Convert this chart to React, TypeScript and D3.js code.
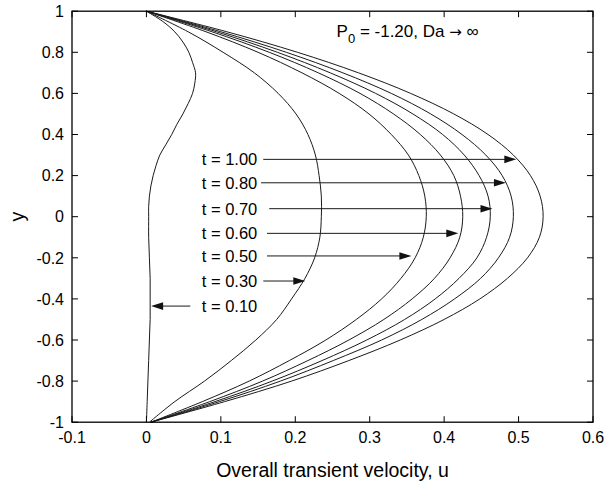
import React from "react";
import * as d3 from "d3";

// profiles sampled on a common y grid (top wall to bottom wall)
const yGrid = [1, 0.9, 0.8, 0.7, 0.6, 0.5, 0.4, 0.3, 0.2, 0.1, 0, -0.1, -0.2, -0.3, -0.4, -0.5, -0.6, -0.7, -0.8, -0.9, -1];
const u030 = [0, 0.056, 0.103, 0.145, 0.177, 0.201, 0.217, 0.227, 0.232, 0.235, 0.235, 0.233, 0.226, 0.213, 0.195, 0.175, 0.147, 0.114, 0.078, 0.038, 0.004];
const u050 = [0, 0.08, 0.15, 0.209, 0.259, 0.299, 0.329, 0.352, 0.366, 0.374, 0.376, 0.372, 0.361, 0.342, 0.316, 0.282, 0.241, 0.192, 0.138, 0.075, 0.006];
const u060 = [0, 0.088, 0.165, 0.231, 0.287, 0.332, 0.368, 0.395, 0.413, 0.422, 0.425, 0.421, 0.408, 0.387, 0.357, 0.319, 0.272, 0.217, 0.156, 0.085, 0.006];
const u070 = [0, 0.094, 0.176, 0.247, 0.308, 0.358, 0.398, 0.427, 0.447, 0.459, 0.462, 0.457, 0.444, 0.42, 0.388, 0.347, 0.296, 0.236, 0.169, 0.092, 0.006];
const u080 = [0, 0.1, 0.188, 0.264, 0.329, 0.382, 0.424, 0.456, 0.478, 0.49, 0.493, 0.488, 0.473, 0.449, 0.414, 0.37, 0.316, 0.251, 0.18, 0.098, 0.006];
const u100 = [0, 0.108, 0.203, 0.285, 0.355, 0.413, 0.459, 0.493, 0.516, 0.529, 0.533, 0.528, 0.512, 0.485, 0.448, 0.4, 0.341, 0.272, 0.195, 0.105, 0.006];

// t = 0.10 needs a finer grid near the top wall
const y010 = [1, 0.95, 0.9, 0.85, 0.8, 0.75, 0.7, 0.65, 0.6, 0.55, 0.5, 0.45, 0.4, 0.35, 0.3, 0.25, 0.2, 0.15, 0.1, 0.05, 0, -0.1, -0.2, -0.3, -0.4, -0.5, -0.6, -0.7, -0.8, -0.9, -1];
const u010 = [0, 0.022, 0.038, 0.049, 0.057, 0.062, 0.066, 0.065, 0.062, 0.056, 0.049, 0.041, 0.034, 0.026, 0.018, 0.013, 0.009, 0.006, 0.004, 0.003, 0.003, 0.003, 0.004, 0.005, 0.005, 0.005, 0.004, 0.003, 0.002, 0.001, 0];

// arrow annotations
const arrowLabels = ["t = 1.00", "t = 0.80", "t = 0.70", "t = 0.60", "t = 0.50", "t = 0.30", "t = 0.10"];
const arrowY = [0.279, 0.165, 0.039, -0.081, -0.191, -0.313, -0.435];
const arrowFrom = [0.157, 0.154, 0.165, 0.162, 0.162, 0.157, 0.059];
const arrowTo = [0.497, 0.483, 0.465, 0.419, 0.356, 0.2135, 0.0063];
const labelRightU = 0.149;

const xTicks = [-0.1, 0, 0.1, 0.2, 0.3, 0.4, 0.5, 0.6];
const yTicks = [-1, -0.8, -0.6, -0.4, -0.2, 0, 0.2, 0.4, 0.6, 0.8, 1];

const W = 613;
const H = 483;
const left = 72, right = 593, top = 11.2, bottom = 422.2;
const font = "'Liberation Sans', Arial, Helvetica, sans-serif";

const fmt = (v: number) => String(v);

export default function App() {
  const x = d3.scaleLinear().domain([-0.1, 0.6]).range([left, right]);
  const y = d3.scaleLinear().domain([-1, 1]).range([bottom, top]);

  const line = d3
    .line<[number, number]>()
    .x((d) => x(d[0]))
    .y((d) => y(d[1]))
    .curve(d3.curveCatmullRom.alpha(0.5));

  const series = [u030, u050, u060, u070, u080, u100].map((u) =>
    u.map((v, i) => [v, yGrid[i]] as [number, number])
  );
  series.push(u010.map((v, i) => [v, y010[i]] as [number, number]));

  const tick = 6;

  return (
    <svg width={W} height={H} style={{ position: "absolute", left: 0, top: 0, background: "#fff" }}>
      {/* curves */}
      {series.map((pts, i) => (
        <path key={i} d={line(pts) || ""} fill="none" stroke="#1a1a1a" strokeWidth={1} />
      ))}

      {/* frame */}
      <rect x={left} y={top} width={right - left} height={bottom - top} fill="none" stroke="#000" strokeWidth={1.3} />

      {/* x ticks */}
      {xTicks.map((t) => (
        <g key={"x" + t}>
          <line x1={x(t)} x2={x(t)} y1={bottom} y2={bottom - tick} stroke="#000" />
          <line x1={x(t)} x2={x(t)} y1={top} y2={top + tick} stroke="#000" />
          <text x={x(t)} y={bottom + 21} textAnchor="middle" fontFamily={font} fontSize={16}>
            {fmt(t)}
          </text>
        </g>
      ))}

      {/* y ticks */}
      {yTicks.map((t) => (
        <g key={"y" + t}>
          <line x1={left} x2={left + tick} y1={y(t)} y2={y(t)} stroke="#000" />
          <line x1={right} x2={right - tick} y1={y(t)} y2={y(t)} stroke="#000" />
          <text x={left - 8} y={y(t)} dy="0.36em" textAnchor="end" fontFamily={font} fontSize={16}>
            {fmt(t)}
          </text>
        </g>
      ))}

      {/* arrows */}
      {arrowLabels.map((lab, i) => {
        const yy = y(arrowY[i]);
        const x1 = x(arrowFrom[i]);
        const x2 = x(arrowTo[i]);
        const dir = x2 > x1 ? 1 : -1;
        const head = 12;
        return (
          <g key={lab}>
            <line x1={x1} x2={x2 - dir * head * 0.8} y1={yy} y2={yy} stroke="#1a1a1a" strokeWidth={1} />
            <polygon
              points={`${x2},${yy} ${x2 - dir * head},${yy - 3.8} ${x2 - dir * head},${yy + 3.8}`}
              fill="#111"
            />
            <text x={x(labelRightU)} y={yy} dy="0.36em" textAnchor="end" fontFamily={font} fontSize={16.5}>
              {lab}
            </text>
          </g>
        );
      })}

      {/* parameter note */}
      <text x={x(0.2555)} y={y(0.873)} fontFamily={font} fontSize={17}>
        P
        <tspan dy={6} fontSize={13}>0</tspan>
        <tspan dy={-6}> = -1.20, Da </tspan>
        <tspan fontFamily="'DejaVu Sans', sans-serif" fontSize={15}>→</tspan>
        <tspan> ∞</tspan>
      </text>

      {/* axis titles */}
      <text x={(left + right) / 2} y={477} textAnchor="middle" fontFamily={font} fontSize={19.5}>
        Overall transient velocity, u
      </text>
      <text
        transform={`translate(24, ${(top + bottom) / 2}) rotate(-90)`}
        textAnchor="middle"
        fontFamily={font}
        fontSize={19.5}
      >
        y
      </text>
    </svg>
  );
}
